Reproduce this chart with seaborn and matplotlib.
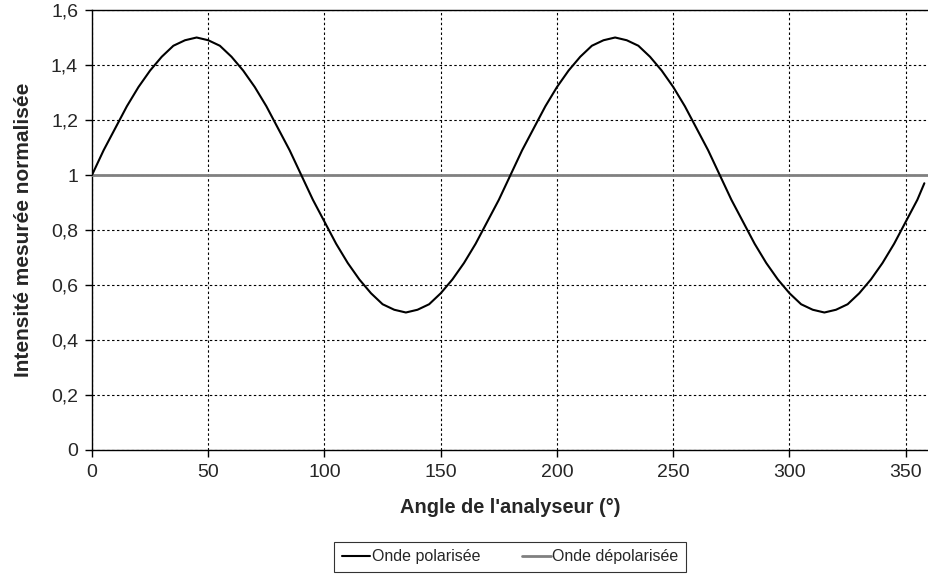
import matplotlib
matplotlib.use('Agg')
import matplotlib.pyplot as plt
import seaborn as sns
import pandas as pd

# Angle de l'analyseur (°), pas de 5°
angles = [0, 5, 10, 15, 20, 25, 30, 35, 40, 45, 50, 55, 60, 65, 70, 75, 80, 85,
          90, 95, 100, 105, 110, 115, 120, 125, 130, 135, 140, 145, 150, 155, 160, 165, 170, 175,
          180, 185, 190, 195, 200, 205, 210, 215, 220, 225, 230, 235, 240, 245, 250, 255, 260, 265,
          270, 275, 280, 285, 290, 295, 300, 305, 310, 315, 320, 325, 330, 335, 340, 345, 350, 355, 358]
# intensité
onde_polarisee = [1.00, 1.09, 1.17, 1.25, 1.32, 1.38, 1.43, 1.47, 1.49, 1.50, 1.49, 1.47, 1.43, 1.38, 1.32, 1.25, 1.17, 1.09,
                  1.00, 0.91, 0.83, 0.75, 0.68, 0.62, 0.57, 0.53, 0.51, 0.50, 0.51, 0.53, 0.57, 0.62, 0.68, 0.75, 0.83, 0.91,
                  1.00, 1.09, 1.17, 1.25, 1.32, 1.38, 1.43, 1.47, 1.49, 1.50, 1.49, 1.47, 1.43, 1.38, 1.32, 1.25, 1.17, 1.09,
                  1.00, 0.91, 0.83, 0.75, 0.68, 0.62, 0.57, 0.53, 0.51, 0.50, 0.51, 0.53, 0.57, 0.62, 0.68, 0.75, 0.83, 0.91, 0.97]
angles_depol = [0, 360]
onde_depolarisee = [1.0, 1.0]

xticks = [0, 50, 100, 150, 200, 250, 300, 350]
yticks = [0, 0.2, 0.4, 0.6, 0.8, 1.0, 1.2, 1.4, 1.6]
ytick_labels = ['0', '0,2', '0,4', '0,6', '0,8', '1', '1,2', '1,4', '1,6']

sns.set_style('white')
plt.rcParams['font.family'] = ['Liberation Sans', 'DejaVu Sans']

fig = plt.figure(figsize=(9.29, 5.76), dpi=100)
ax = fig.add_axes([92 / 929, 1 - 450 / 576, 837 / 929, 440 / 576])

df_pol = pd.DataFrame({'angle': angles, 'intensite': onde_polarisee})
df_dep = pd.DataFrame({'angle': angles_depol, 'intensite': onde_depolarisee})

sns.lineplot(data=df_dep, x='angle', y='intensite', ax=ax, color='#808080',
             linewidth=2.0, label='Onde dépolarisée', zorder=3)
sns.lineplot(data=df_pol, x='angle', y='intensite', ax=ax, color='black',
             linewidth=1.5, label='Onde polarisée', zorder=4)

ax.set_xlim(0, 360)
ax.set_ylim(0, 1.6)
ax.set_xticks(xticks)
ax.set_xticklabels([str(t) for t in xticks])
ax.set_yticks(yticks)
ax.set_yticklabels(ytick_labels)
ax.tick_params(axis='both', labelsize=14, length=5, width=1, color='black',
               direction='out', bottom=True, left=True, pad=5)
ax.grid(True, color='black', linestyle=(0, (2.2, 2.2)), linewidth=0.8)
for side in ['left', 'bottom', 'top', 'right']:
    ax.spines[side].set_color('black')
    ax.spines[side].set_linewidth(1.0)

ax.set_xlabel("Angle de l'analyseur (°)", fontsize=14.4, fontweight='bold', labelpad=12)
ax.set_ylabel('Intensité mesurée normalisée', fontsize=15, fontweight='bold', labelpad=13)

handles, labels = ax.get_legend_handles_labels()
order = [labels.index('Onde polarisée'), labels.index('Onde dépolarisée')]
leg = fig.legend([handles[i] for i in order], [labels[i] for i in order],
                 loc='center', bbox_to_anchor=(510 / 929, 1 - 557 / 576), ncol=2,
                 fontsize=11.5, frameon=True, fancybox=False, edgecolor='black',
                 handlelength=1.8, handletextpad=0.1, columnspacing=2.6,
                 borderpad=0.45)
leg.get_frame().set_linewidth(0.8)
ax.get_legend().remove()

fig.savefig('out.png', dpi=100)
